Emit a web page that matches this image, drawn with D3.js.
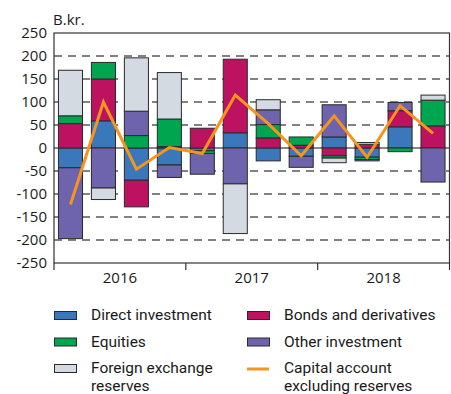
<!DOCTYPE html>
<html>
<head>
<meta charset="utf-8">
<script src="https://cdn.jsdelivr.net/npm/d3@7"></script>
<style>
  body { margin: 0; background: #fff; }
  svg { display: block; }
  text { font-family: "Open Sans", sans-serif; fill: #1a1a1a; }
  .legend text { font-family: Roboto, "Open Sans", sans-serif; }
</style>
</head>
<body>
<svg id="chart" width="451" height="394"></svg>
<script>
// Quarterly capital flows, billion kroner
const quarters = ["2016Q1","2016Q2","2016Q3","2016Q4",
                  "2017Q1","2017Q2","2017Q3","2017Q4",
                  "2018Q1","2018Q2","2018Q3","2018Q4"];
const years = ["2016", "2017", "2018"];

const directInvestment = [-43, 59, -70, -37, -6, 33, -28, -18, 24, -20, 46, 0];
const bondsDerivatives = [53, 91, -58, 3, 43, 160, 22, 6, -17, 8, 35, 48];
const equities         = [17, 36, 27, 60, -6, 0, 29, 18, -5, -5, -8, 56];
const otherInvestment  = [-154, -87, 53, -27, -45, -78, 32, -24, 70, -3, 18, -74];
const fxReserves       = [99, -25, 116, 101, 0, -108, 22, 0, -10, 4, 0, 11];
const capitalAccount   = [-123, 100, -46, 1, -12, 115, 53, -17, 70, -20, 92, 32];

const yTicks = [-250, -200, -150, -100, -50, 0, 50, 100, 150, 200, 250];

const series = [
  { key: "direct", label: ["Direct investment"], color: "#3a77bb", values: directInvestment },
  { key: "bonds", label: ["Bonds and derivatives"], color: "#bd1260", values: bondsDerivatives },
  { key: "equities", label: ["Equities"], color: "#00a550", values: equities },
  { key: "other", label: ["Other investment"], color: "#6e64ad", values: otherInvestment },
  { key: "fx", label: ["Foreign exchange", "reserves"], color: "#d4dae2", values: fxReserves }
];
const lineColor = "#f7941d";

const rows = quarters.map((q, i) => {
  const r = { quarter: q };
  series.forEach(s => r[s.key] = s.values[i]);
  return r;
});

const svg = d3.select("#chart");
const plotLeft = 54, plotRight = 449.5, plotTop = 33, plotBottom = 263;

const x = d3.scaleBand().domain(quarters).range([plotLeft, plotRight])
  .paddingInner(0.27).paddingOuter(0.135);
const y = d3.scaleLinear().domain([-250, 250]).range([plotBottom, plotTop]);

// dashed grid
svg.append("g").selectAll("line")
  .data(yTicks.filter(t => t !== 0 && Math.abs(t) !== 250))
  .join("line")
  .attr("x1", plotLeft).attr("x2", plotRight)
  .attr("y1", d => y(d)).attr("y2", d => y(d))
  .attr("stroke", "#5a5a5a").attr("stroke-width", 1.3)
  .attr("stroke-dasharray", "8,6");

// zero line
svg.append("line")
  .attr("x1", plotLeft).attr("x2", plotRight)
  .attr("y1", y(0)).attr("y2", y(0))
  .attr("stroke", "#111").attr("stroke-width", 1.2);

// stacked bars
const stack = d3.stack().keys(series.map(s => s.key)).offset(d3.stackOffsetDiverging);
const stacked = stack(rows);
svg.append("g").selectAll("g")
  .data(stacked)
  .join("g")
  .attr("fill", (d, i) => series[i].color)
  .selectAll("rect")
  .data(d => d.filter(v => v[1] !== v[0]))
  .join("rect")
  .attr("x", d => x(d.data.quarter))
  .attr("width", x.bandwidth())
  .attr("y", d => y(Math.max(d[0], d[1])))
  .attr("height", d => Math.abs(y(d[0]) - y(d[1])))
  .attr("stroke", "#2a2a2a").attr("stroke-width", 1);

// capital account line
const line = d3.line()
  .x((d, i) => x(quarters[i]) + x.bandwidth() / 2)
  .y(d => y(d));
svg.append("path")
  .datum(capitalAccount)
  .attr("d", line)
  .attr("fill", "none")
  .attr("stroke", lineColor)
  .attr("stroke-width", 3)
  .attr("stroke-linejoin", "miter");

// frame
svg.append("rect")
  .attr("x", plotLeft).attr("y", plotTop)
  .attr("width", plotRight - plotLeft).attr("height", plotBottom - plotTop)
  .attr("fill", "none").attr("stroke", "#333").attr("stroke-width", 1.2);

// y axis labels
const yAxis = d3.axisLeft(y).tickValues(yTicks).tickSize(0).tickPadding(7)
  .tickFormat(d => String(d));
const gy = svg.append("g").attr("transform", `translate(${plotLeft},0)`).call(yAxis);
gy.select(".domain").remove();
gy.selectAll("text").style("font-size", "15px").style("font-family", "\"Open Sans\", sans-serif").attr("fill", "#1a1a1a");

// x axis: year groups
const yearEdges = [0, 4, 8, 12].map(i => plotLeft + i * x.step());
svg.append("g").selectAll("line").data(yearEdges).join("line")
  .attr("x1", d => d).attr("x2", d => d)
  .attr("y1", plotBottom).attr("y2", plotBottom + 7)
  .attr("stroke", "#333").attr("stroke-width", 1.2);
svg.append("g").selectAll("text").data(years).join("text")
  .attr("x", (d, i) => (yearEdges[i] + yearEdges[i + 1]) / 2)
  .attr("y", 283)
  .attr("text-anchor", "middle")
  .style("font-size", "15px")
  .text(d => d);

// unit label
svg.append("text").attr("x", plotLeft - 1).attr("y", 25).style("font-size", "15px").text("B.kr.");

// legend
const legendItems = [
  { s: series[0], col: 0, row: 0 },
  { s: series[1], col: 1, row: 0 },
  { s: series[2], col: 0, row: 1 },
  { s: series[3], col: 1, row: 1 },
  { s: series[4], col: 0, row: 2 },
  { s: { label: ["Capital account", "excluding reserves"], color: lineColor, isLine: true }, col: 1, row: 2 }
];
const colX = [54, 247], rowY = [320, 346.5, 373];
const lg = svg.append("g").attr("class", "legend");
legendItems.forEach(it => {
  const g = lg.append("g").attr("transform", `translate(${colX[it.col]},${rowY[it.row]})`);
  if (it.s.isLine) {
    g.append("line").attr("x1", 0).attr("x2", 22).attr("y1", -4).attr("y2", -4)
      .attr("stroke", it.s.color).attr("stroke-width", 3);
  } else {
    g.append("rect").attr("x", 0.5).attr("y", -8.5).attr("width", 22).attr("height", 8)
      .attr("fill", it.s.color).attr("stroke", "#2a2a2a").attr("stroke-width", 1);
  }
  it.s.label.forEach((l, k) => {
    g.append("text").attr("x", 37).attr("y", k * 18)
      .style("font-size", "15.5px").text(l);
  });
});
</script>
</body>
</html>
